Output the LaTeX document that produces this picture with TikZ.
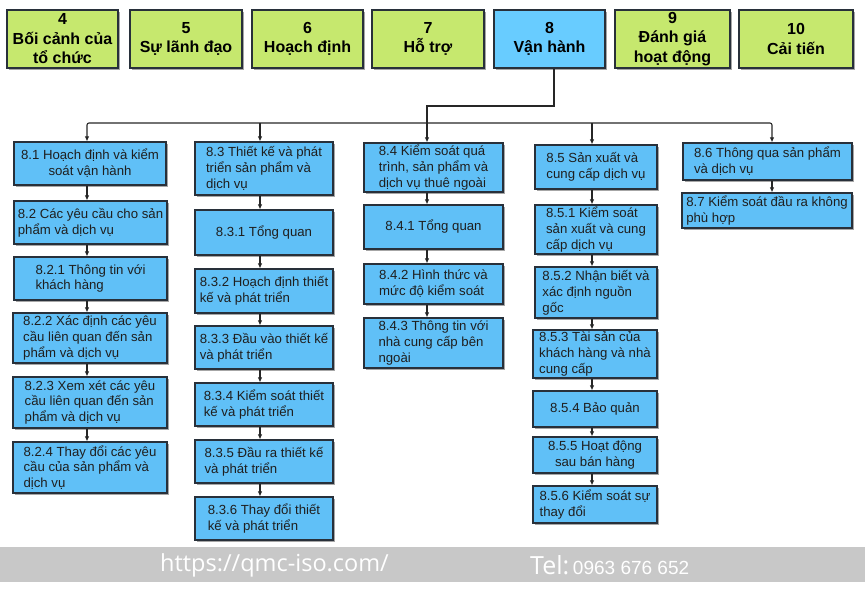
\documentclass[tikz,border=0pt]{standalone}
\usepackage{fontspec}
\setmainfont{Liberation Sans}
\newfontfamily\urlfont{Open Sans}
\usetikzlibrary{shadows,arrows.meta}
\definecolor{gboxc}{RGB}{198,232,110}
\definecolor{bboxc}{RGB}{96,192,247}
\definecolor{cboxc}{RGB}{104,204,255}
\definecolor{edgec}{RGB}{40,48,58}
\definecolor{barc}{RGB}{200,200,200}
\tikzset{
  shad/.style={drop shadow={shadow xshift=2pt, shadow yshift=-2pt, opacity=0.35, fill=black}},
  topbox/.style={shad, draw=edgec, line width=1.2pt, fill=gboxc, align=center, inner sep=0pt,
    font=\fontsize{16}{19.5}\selectfont\bfseries, text=black},
  subbox/.style={shad, draw=edgec, line width=1.2pt, fill=bboxc, inner sep=1pt,
    font=\fontsize{13.2}{15.8}\selectfont, text=black!88},
  lt/.style={subbox, align=left},
  ct/.style={subbox, align=center},
  conn/.style={draw=black!85, line width=1.1pt},
  arr/.style={conn, -{Latex[length=5pt,width=4.5pt]}},
}
\newcommand\qbox[7]{\node[#1, minimum width={#5pt-#3pt}, minimum height={#6pt-#4pt}] (#2) at ({(#3+#5)/2},{(#4+#6)/2}) {#7};}
\begin{document}
\begin{tikzpicture}[x=1pt,y=-1pt]
\useasboundingbox (0,0) rectangle (865,598);
% top row
\qbox{topbox}{b4}{7}{10}{118}{68}{4\\Bối cảnh của\\tổ chức}
\qbox{topbox}{b5}{130}{10}{242}{68}{5\\Sự lãnh đạo}
\qbox{topbox}{b6}{252}{10}{363}{68}{6\\Hoạch định}
\qbox{topbox}{b7}{372}{10}{484}{68}{7\\Hỗ trợ}
\qbox{topbox,fill=cboxc}{b8}{494}{10}{605}{68}{8\\Vận hành}
\qbox{topbox}{b9}{615}{10}{730}{68}{9\\Đánh giá\\hoạt động}
\qbox{topbox}{b10}{739}{10}{853}{68}{10\\Cải tiến}
% column 1
\qbox{ct}{b81}{14}{142}{166}{185}{8.1 Hoạch định và kiểm\\soát vận hành}
\qbox{lt}{b82}{14}{201}{167}{244}{8.2 Các yêu cầu cho sản\\phẩm và dịch vụ}
\qbox{lt}{b821}{14}{257}{167}{300}{8.2.1 Thông tin với\\khách hàng}
\qbox{lt}{b822}{13}{313}{167}{363}{8.2.2 Xác định các yêu\\cầu liên quan đến sản\\phẩm và dịch vụ}
\qbox{lt}{b823}{13}{377}{167}{428}{8.2.3 Xem xét các yêu\\cầu liên quan đến sản\\phẩm và dịch vụ}
\qbox{lt}{b824}{13}{442}{167}{493}{8.2.4 Thay đổi các yêu\\cầu của sản phẩm và\\dịch vụ}
% column 2
\qbox{lt}{b83}{195}{142}{333}{195}{8.3 Thiết kế và phát\\triển sản phẩm và\\dịch vụ}
\qbox{ct}{b831}{195}{210}{333}{255}{8.3.1 Tổng quan}
\qbox{lt}{b832}{195}{269}{333}{313}{8.3.2 Hoạch định thiết\\kế và phát triển}
\qbox{lt}{b833}{195}{326}{333}{369}{8.3.3 Đầu vào thiết kế\\và phát triển}
\qbox{lt}{b834}{195}{383}{333}{426}{8.3.4 Kiểm soát thiết\\kế và phát triển}
\qbox{lt}{b835}{195}{440}{333}{483}{8.3.5 Đầu ra thiết kế\\và phát triển}
\qbox{lt}{b836}{195}{497}{333}{540}{8.3.6 Thay đổi thiết\\kế và phát triển}
% column 3
\qbox{lt}{b84}{364}{143}{503}{192}{8.4 Kiểm soát quá\\trình, sản phẩm và\\dịch vụ thuê ngoài}
\qbox{ct}{b841}{364}{205}{503}{249}{8.4.1 Tổng quan}
\qbox{lt}{b842}{364}{264}{503}{304}{8.4.2 Hình thức và\\mức độ kiểm soát}
\qbox{lt}{b843}{364}{318}{503}{368}{8.4.3 Thông tin với\\nhà cung cấp bên\\ngoài}
% column 4
\qbox{lt}{b85}{535}{145}{657}{189}{8.5 Sản xuất và\\cung cấp dịch vụ}
\qbox{lt}{b851}{535}{205}{657}{254}{8.5.1 Kiểm soát\\sản xuất và cung\\cấp dịch vụ}
\qbox{lt}{b852}{535}{267}{657}{318}{8.5.2 Nhận biết và\\xác định nguồn\\gốc}
\qbox{lt}{b853}{533}{330}{657}{378}{8.5.3 Tài sản của\\khách hàng và nhà\\cung cấp}
\qbox{ct}{b854}{533}{391}{657}{427}{8.5.4 Bảo quản}
\qbox{ct}{b855}{533}{437}{657}{473}{8.5.5 Hoạt động\\sau bán hàng}
\qbox{lt}{b856}{533}{486}{657}{523}{8.5.6 Kiểm soát sự\\thay đổi}
% column 5
\qbox{lt}{b86}{683}{143}{852}{180}{8.6 Thông qua sản phẩm\\và dịch vụ}
\qbox{lt}{b87}{682}{193}{852}{228}{8.7 Kiểm soát đầu ra không\\phù hợp}
% column axes
\coordinate (c1) at (87,0);
\coordinate (c2) at (260,0);
\coordinate (c3) at (427,0);
\coordinate (c4) at (592,0);
\coordinate (c5) at (772,0);
\coordinate (k) at (554,106);
\coordinate (bar) at (427,123);
% connectors from 8
\draw[arr] (b8.south -| k) -- (k) -| (c3 |- b84.north);
\draw[arr, rounded corners=2pt] (bar) -| (c1 |- b81.north);
\draw[arr, rounded corners=2pt] (bar) -| (c5 |- b86.north);
\draw[arr] (c2 |- bar) -- (c2 |- b83.north);
\draw[arr] (c4 |- bar) -- (c4 |- b85.north);
% column arrows
\foreach \a/\b in {b81/b82,b82/b821,b821/b822,b822/b823,b823/b824}
  \draw[arr] (\a.south -| c1) -- (\b.north -| c1);
\foreach \a/\b in {b83/b831,b831/b832,b832/b833,b833/b834,b834/b835,b835/b836}
  \draw[arr] (\a.south -| c2) -- (\b.north -| c2);
\foreach \a/\b in {b84/b841,b841/b842,b842/b843}
  \draw[arr] (\a.south -| c3) -- (\b.north -| c3);
\foreach \a/\b in {b85/b851,b851/b852,b852/b853,b853/b854,b854/b855,b855/b856}
  \draw[arr] (\a.south -| c4) -- (\b.north -| c4);
\draw[arr] (b86.south -| c5) -- (b87.north -| c5);
% footer band
\fill[barc] (0,547) rectangle (865,582);
\node[anchor=west, inner sep=0pt, text=white, font=\urlfont\fontsize{23.5}{23.5}\selectfont] (url) at (160,565) {https://qmc-iso.com/};
\node[anchor=west, inner sep=0pt, text=white] (tel) at (530,565) {{\urlfont\fontsize{25}{25}\selectfont Tel:} {\fontsize{19}{19}\selectfont 0963 676 652}};
\end{tikzpicture}
\end{document}
